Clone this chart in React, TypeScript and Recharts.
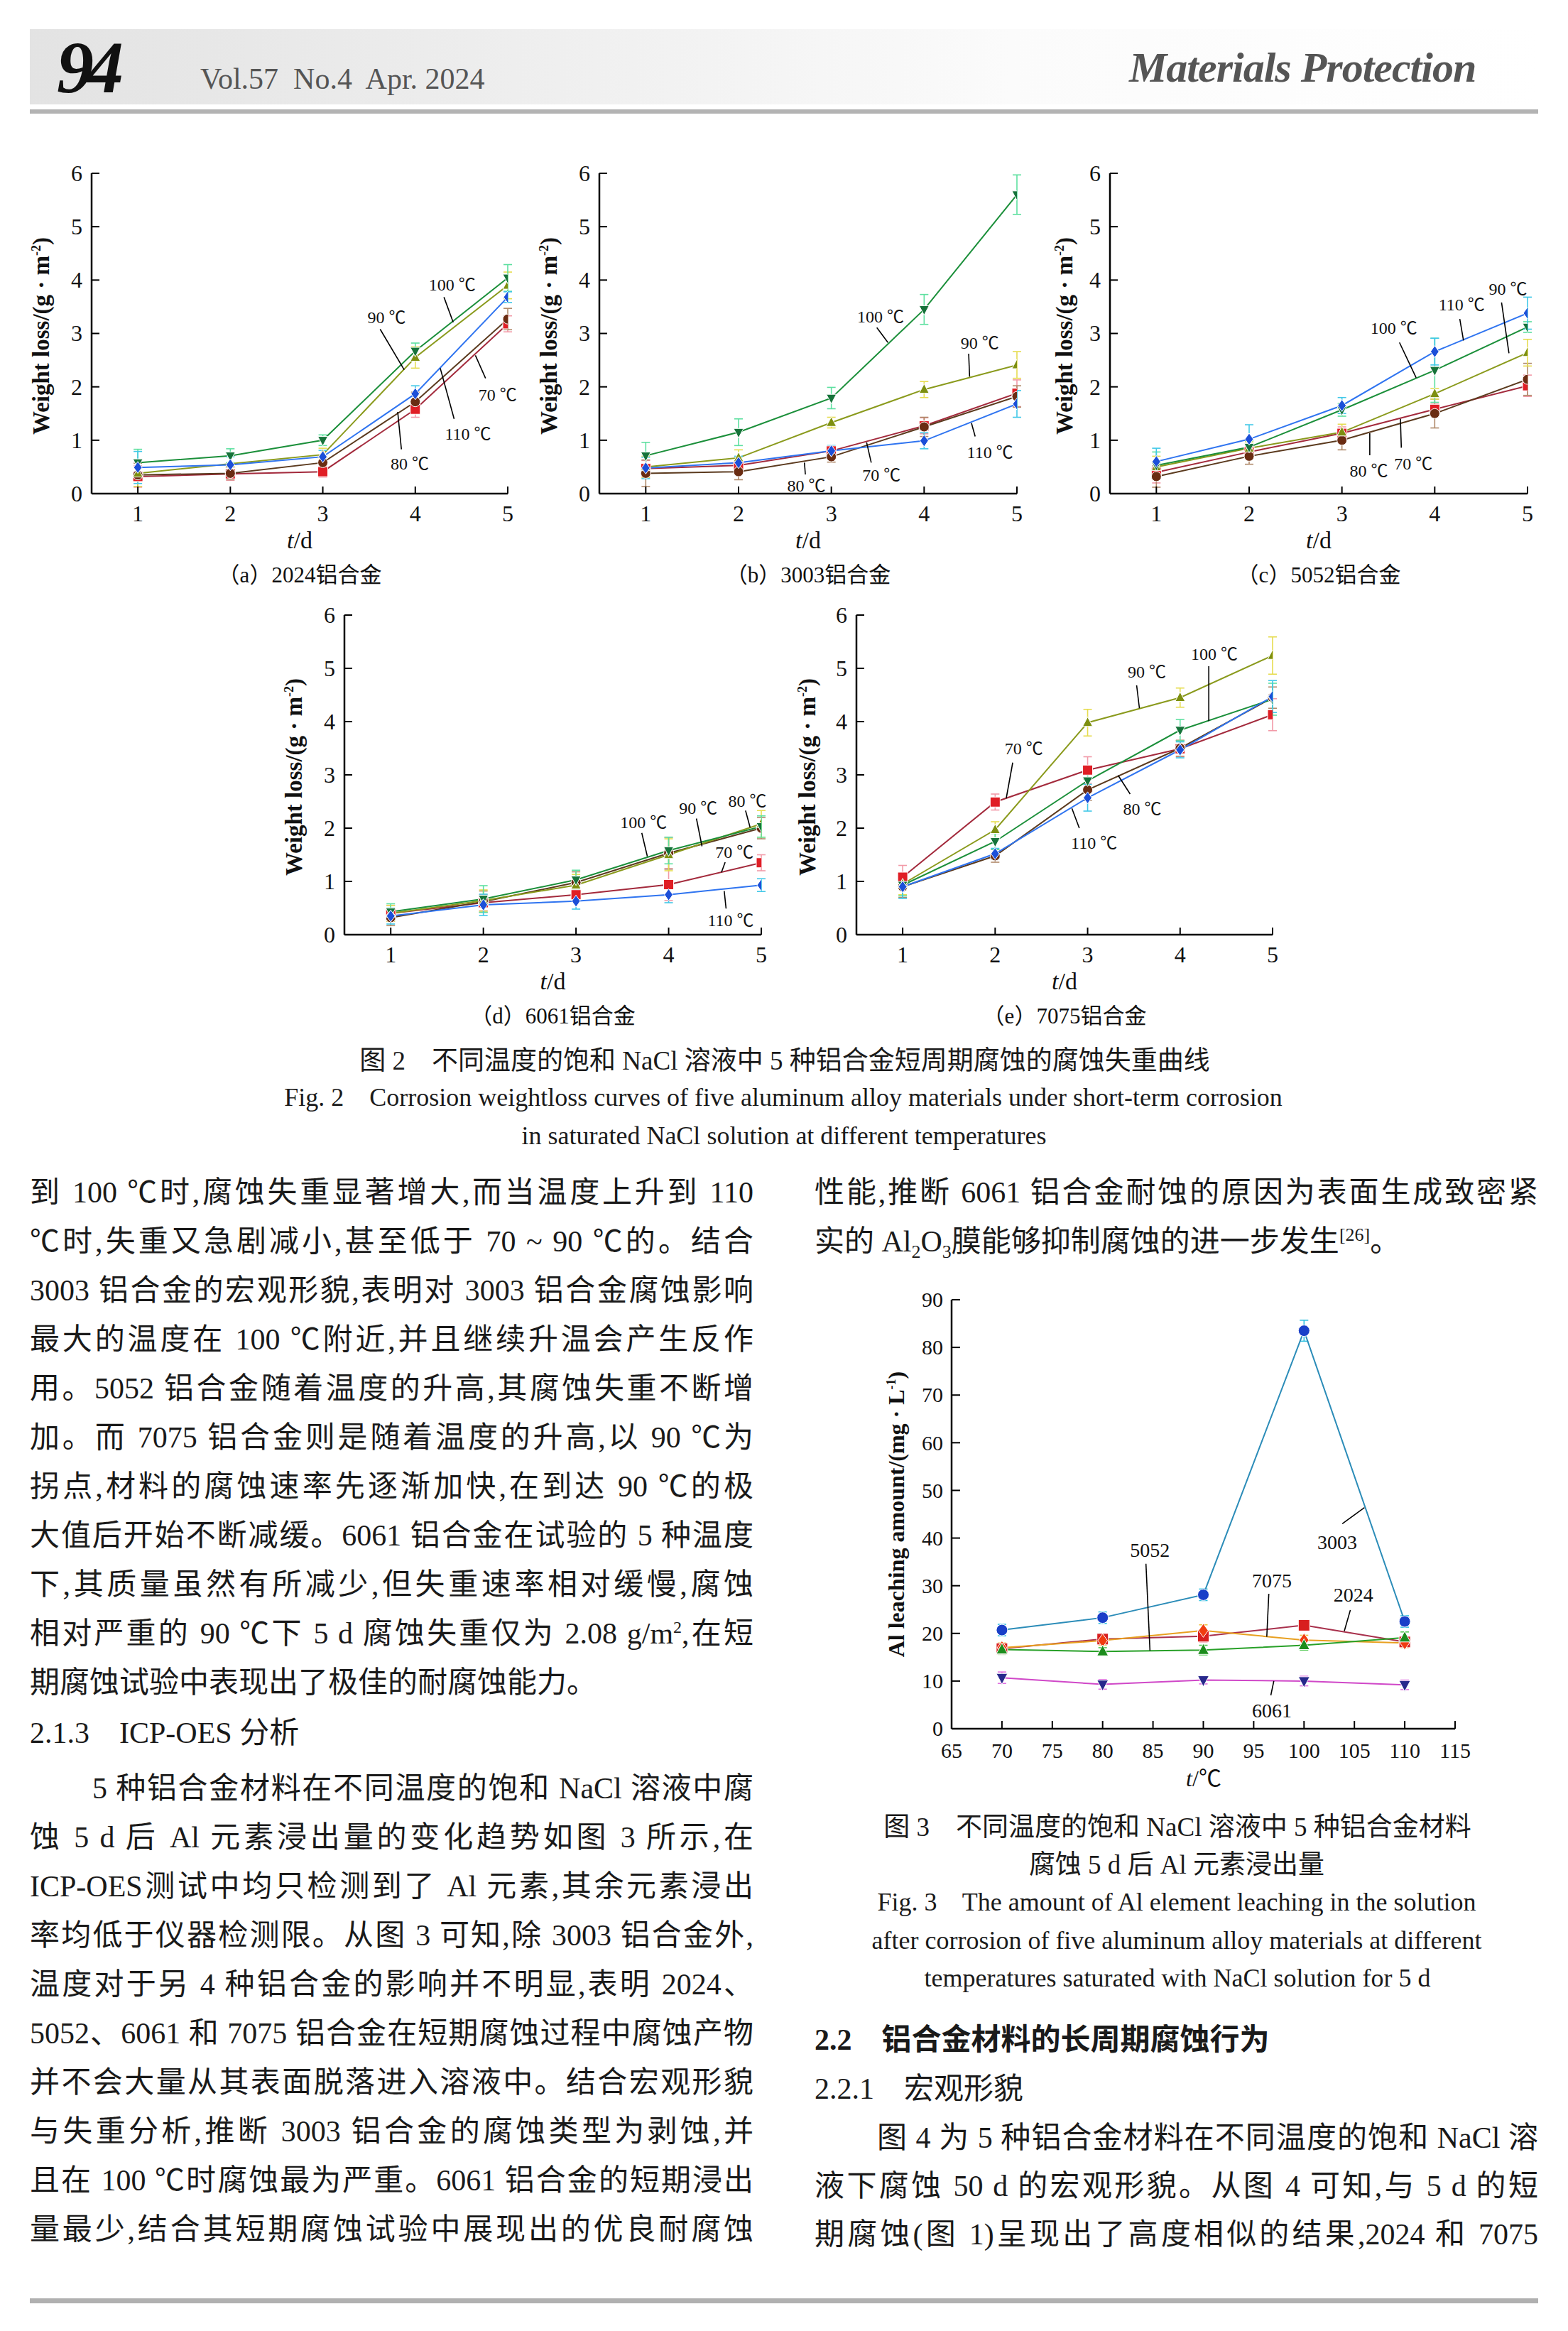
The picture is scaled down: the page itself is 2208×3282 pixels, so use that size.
import React from "react";
import { LineChart, Line, XAxis, YAxis, ErrorBar, ReferenceLine, ReferenceDot } from "recharts";

const SERIF = '"Liberation Serif", "Noto Sans CJK SC", serif';

// ---- Fig. 2 : weight loss (g/m2) vs. time (d) ----
const days = [1, 2, 3, 4, 5];
const dayTicks = [1, 2, 3, 4, 5];
const lossTicks = [0, 1, 2, 3, 4, 5, 6];
// rows: 70, 80, 90, 100, 110 ℃ ; cols: day 1..5
const loss2024 = [
  [0.32, 0.37, 0.41, 1.58, 3.18],
  [0.35, 0.38, 0.58, 1.72, 3.27],
  [0.38, 0.56, 0.73, 2.55, 3.9],
  [0.58, 0.71, 1.0, 2.67, 4.04],
  [0.49, 0.54, 0.69, 1.87, 3.68],
];
const err2024 = [
  [0.2, 0.12, 0.1, 0.15, 0.15],
  [0.22, 0.12, 0.12, 0.18, 0.2],
  [0.25, 0.15, 0.12, 0.2, 0.25],
  [0.25, 0.13, 0.1, 0.15, 0.25],
  [0.3, 0.15, 0.12, 0.15, 0.1],
];
const loss3003 = [
  [0.47, 0.53, 0.8, 1.27, 1.88],
  [0.38, 0.41, 0.69, 1.25, 1.82],
  [0.5, 0.67, 1.33, 1.95, 2.41],
  [0.71, 1.15, 1.79, 3.45, 5.6],
  [0.48, 0.58, 0.8, 0.99, 1.68],
];
const err3003 = [
  [0.15, 0.1, 0.08, 0.15, 0.25],
  [0.25, 0.15, 0.1, 0.18, 0.2],
  [0.2, 0.15, 0.1, 0.15, 0.25],
  [0.25, 0.25, 0.2, 0.28, 0.37],
  [0.2, 0.12, 0.1, 0.15, 0.25],
];
const loss5052 = [
  [0.4, 0.78, 1.13, 1.58, 2.02],
  [0.32, 0.7, 1.0, 1.5, 2.14],
  [0.5, 0.85, 1.15, 1.87, 2.64],
  [0.53, 0.87, 1.57, 2.31, 3.12],
  [0.6, 1.02, 1.65, 2.66, 3.38],
];
const err5052 = [
  [0.2, 0.1, 0.12, 0.1, 0.2],
  [0.2, 0.15, 0.18, 0.27, 0.3],
  [0.2, 0.12, 0.15, 0.1, 0.25],
  [0.25, 0.12, 0.12, 0.6, 0.1],
  [0.25, 0.27, 0.15, 0.25, 0.3],
];
const loss6061 = [
  [0.4, 0.6, 0.75, 0.94, 1.35],
  [0.32, 0.62, 0.98, 1.53, 2.0],
  [0.4, 0.64, 0.93, 1.5, 2.08],
  [0.43, 0.67, 1.03, 1.58, 2.03],
  [0.35, 0.56, 0.63, 0.75, 0.93],
];
const err6061 = [
  [0.15, 0.15, 0.12, 0.3, 0.15],
  [0.15, 0.2, 0.2, 0.3, 0.2],
  [0.15, 0.2, 0.2, 0.3, 0.25],
  [0.15, 0.25, 0.18, 0.25, 0.2],
  [0.15, 0.2, 0.15, 0.15, 0.12],
];
const loss7075 = [
  [1.08, 2.49, 3.09, 3.49, 4.13],
  [0.9, 1.48, 2.72, 3.5, 4.45],
  [0.95, 1.97, 3.98, 4.45, 5.24],
  [0.93, 1.75, 2.89, 3.84, 4.42],
  [0.9, 1.52, 2.57, 3.47, 4.47],
];
const err7075 = [
  [0.22, 0.15, 0.25, 0.15, 0.3],
  [0.2, 0.12, 0.2, 0.15, 0.2],
  [0.2, 0.15, 0.25, 0.18, 0.35],
  [0.2, 0.15, 0.2, 0.2, 0.3],
  [0.22, 0.1, 0.25, 0.15, 0.3],
];

// callouts: [label, textX, textY, leaderX1, leaderY1, leaderX2, leaderY2] in data units
type Note = [string, number, number, number, number, number, number];
const notes2024: Note[] = [
  ["100 ℃", 4.4, 3.92, 4.31, 3.68, 4.41, 3.21],
  ["90 ℃", 3.69, 3.31, 3.62, 3.08, 3.88, 2.32],
  ["70 ℃", 4.89, 1.86, 4.76, 2.16, 4.65, 2.59],
  ["110 ℃", 4.57, 1.12, 4.42, 1.4, 4.27, 2.35],
  ["80 ℃", 3.94, 0.56, 3.85, 0.83, 3.81, 1.53],
];
const notes3003: Note[] = [
  ["100 ℃", 3.53, 3.32, 3.49, 3.11, 3.61, 2.83],
  ["90 ℃", 4.6, 2.83, 4.48, 2.62, 4.49, 2.19],
  ["110 ℃", 4.71, 0.78, 4.55, 1.07, 4.51, 1.32],
  ["70 ℃", 3.54, 0.35, 3.43, 0.58, 3.38, 0.96],
  ["80 ℃", 2.73, 0.15, 2.72, 0.36, 2.71, 0.58],
];
const notes5052: Note[] = [
  ["90 ℃", 4.79, 3.84, 4.72, 3.58, 4.8, 2.63],
  ["110 ℃", 4.29, 3.54, 4.27, 3.27, 4.31, 2.87],
  ["100 ℃", 3.56, 3.11, 3.62, 2.83, 3.8, 2.17],
  ["80 ℃", 3.29, 0.43, 3.3, 0.72, 3.3, 1.13],
  ["70 ℃", 3.77, 0.56, 3.64, 0.86, 3.63, 1.4],
];
const notes6061: Note[] = [
  ["100 ℃", 3.73, 2.12, 3.71, 1.91, 3.77, 1.47],
  ["90 ℃", 4.32, 2.38, 4.3, 2.18, 4.36, 1.66],
  ["80 ℃", 4.85, 2.52, 4.83, 2.33, 4.88, 2.01],
  ["70 ℃", 4.71, 1.55, 4.61, 1.36, 4.57, 1.17],
  ["110 ℃", 4.67, 0.27, 4.62, 0.49, 4.6, 0.82],
];
const notes7075: Note[] = [
  ["100 ℃", 4.37, 5.27, 4.31, 5.04, 4.31, 4.01],
  ["90 ℃", 3.64, 4.94, 3.53, 4.68, 3.56, 4.25],
  ["70 ℃", 2.31, 3.5, 2.19, 3.23, 2.12, 2.56],
  ["80 ℃", 3.59, 2.37, 3.46, 2.64, 3.33, 2.99],
  ["110 ℃", 3.07, 1.73, 2.91, 2.0, 2.83, 2.37],
];

const tempStyles = [
  { line: "#a32a3c", mark: "#e01e25", err: "#f29aa8", shape: "square" },
  { line: "#5b3a1e", mark: "#6a2c12", err: "#b08a6a", shape: "circle" },
  { line: "#8a9a1c", mark: "#7d8f10", err: "#e6dc50", shape: "up" },
  { line: "#1b8f3a", mark: "#16733a", err: "#5ee0a0", shape: "down" },
  { line: "#2f74f0", mark: "#1c4fd8", err: "#40c8e8", shape: "diamond" },
];

// ---- Fig. 3 : Al leaching (mg/L) vs. temperature ----
const temps = [70, 80, 90, 100, 110];
const tempTicks = [65, 70, 75, 80, 85, 90, 95, 100, 105, 110, 115];
const leachTicks = [0, 10, 20, 30, 40, 50, 60, 70, 80, 90];
const alloyNames = ["3003", "2024", "7075", "5052", "6061"];
const leach = [
  [20.7, 23.3, 28.1, 83.5, 22.5],
  [16.8, 18.8, 19.4, 21.7, 18.2],
  [17.0, 18.5, 20.6, 18.6, 18.0],
  [16.6, 16.2, 16.5, 17.5, 19.1],
  [10.7, 9.3, 10.2, 10.0, 9.2],
];
const leachErr = [
  [1.2, 1.2, 1.2, 2.2, 1.2],
  [1.0, 1.0, 1.2, 0.8, 1.0],
  [1.0, 1.0, 1.2, 1.0, 1.0],
  [1.0, 0.8, 1.0, 1.0, 1.2],
  [1.2, 1.0, 0.8, 1.0, 1.0],
];
const leachNotes: Note[] = [
  ["3003", 103.3, 39.2, 103.8, 43.0, 106.0, 46.4],
  ["5052", 84.7, 37.6, 84.3, 34.6, 84.7, 16.4],
  ["7075", 96.8, 31.2, 96.5, 28.3, 96.3, 19.3],
  ["2024", 104.9, 28.1, 104.6, 24.9, 104.0, 20.5],
  ["6061", 96.8, 3.9, 96.7, 7.0, 97.0, 10.0],
];
const alloyStyles = [
  { line: "#2b8cb8", mark: "#1a3fc8", err: "#30c0e0", shape: "circle" },
  { line: "#a8304c", mark: "#d81e1e", err: "#f07890", shape: "square" },
  { line: "#e8a020", mark: "#f03c10", err: "#f0c040", shape: "diamond" },
  { line: "#28a028", mark: "#1c8c1c", err: "#50c850", shape: "up" },
  { line: "#d048c8", mark: "#28288c", err: "#e070e0", shape: "down" },
];

function marker(shape: string, fill: string, s: number) {
  return (p: any) => {
    const { cx, cy, index } = p;
    const k = `m${index}`;
    if (cx == null || cy == null) return <g key={k} />;
    const st = { fill, stroke: "#ffffff", strokeWidth: 1 };
    if (shape === "square") return <rect key={k} x={cx - s} y={cy - s} width={2 * s} height={2 * s} {...st} />;
    if (shape === "circle") return <circle key={k} cx={cx} cy={cy} r={s} {...st} />;
    if (shape === "up")
      return <polygon key={k} points={`${cx},${cy - s * 1.15} ${cx - s},${cy + s * 0.75} ${cx + s},${cy + s * 0.75}`} {...st} />;
    if (shape === "down")
      return <polygon key={k} points={`${cx},${cy + s * 1.15} ${cx - s},${cy - s * 0.75} ${cx + s},${cy - s * 0.75}`} {...st} />;
    return <polygon key={k} points={`${cx},${cy - s * 1.2} ${cx + s * 0.85},${cy} ${cx},${cy + s * 1.2} ${cx - s * 0.85},${cy}`} {...st} />;
  };
}

const xTick = (len: number, dy: number, fs: number) => (p: any) => (
  <g>
    <line x1={p.x} y1={p.y} x2={p.x} y2={p.y - len} stroke="#000" strokeWidth={2} />
    <text x={p.x} y={p.y + dy} textAnchor="middle" fontSize={fs} fontFamily={SERIF} fill="#111">
      {p.payload.value}
    </text>
  </g>
);
const yTick = (len: number, gap: number, fs: number) => (p: any) => (
  <g>
    <line x1={p.x} y1={p.y} x2={p.x + len} y2={p.y} stroke="#000" strokeWidth={2} />
    <text x={p.x - gap} y={p.y} dy="0.34em" textAnchor="end" fontSize={fs} fontFamily={SERIF} fill="#111">
      {p.payload.value}
    </text>
  </g>
);

function callouts(notes: Note[], fs: number) {
  const out: any[] = [];
  notes.forEach((n, i) => {
    out.push(
      <ReferenceLine
        key={`l${i}`}
        segment={[{ x: n[3], y: n[4] }, { x: n[5], y: n[6] }]}
        stroke="#000"
        strokeWidth={1.6}
        ifOverflow="visible"
      />
    );
    out.push(
      <ReferenceDot
        key={`t${i}`}
        x={n[1]}
        y={n[2]}
        r={0}
        fill="none"
        stroke="none"
        ifOverflow="visible"
        label={{ value: n[0], position: "center", fontSize: fs, fontFamily: SERIF, fill: "#111" }}
      />
    );
  });
  return out;
}

const abs = (x: number, y: number, extra: any = {}) => ({ position: "absolute" as const, left: x, top: y, ...extra });

const axisStyle = { stroke: "#000", strokeWidth: 2.5 };

function WeightPanel(props: {
  box: number[];
  loss: number[][];
  err: number[][];
  notes: Note[];
  labelX: number;
  tag: string;
  alloy: string;
}) {
  const [x0, y0, x1, y1] = props.box;
  const pad = 70;
  const rows = days.map((d, i) => {
    const r: any = { day: d };
    props.loss.forEach((s, j) => {
      r["s" + j] = s[i];
      r["e" + j] = props.err[j][i];
    });
    return r;
  });
  const cx = (x0 + x1) / 2;
  return (
    <>
      <div style={abs(x0 - pad, y0 - pad)}>
        <LineChart
          width={x1 - x0 + 2 * pad}
          height={y1 - y0 + 2 * pad}
          data={rows}
          margin={{ top: pad, right: pad, bottom: pad - 1, left: pad - 1 }}
          style={{ overflow: "visible" }}
        >
          <XAxis
            dataKey="day"
            type="number"
            domain={[0.5, 5]}
            ticks={dayTicks}
            allowDataOverflow
            height={1}
            tickSize={0}
            tickMargin={0}
            tickLine={false}
            interval={0}
            axisLine={axisStyle}
            tick={xTick(10, 39, 32)}
          />
          <YAxis
            type="number"
            domain={[0, 6]}
            ticks={lossTicks}
            allowDataOverflow
            width={1}
            tickSize={0}
            tickMargin={0}
            tickLine={false}
            interval={0}
            axisLine={axisStyle}
            tick={yTick(11, 13, 32)}
          />
          {props.loss.map((_, j) => (
            <Line
              key={j}
              type="linear"
              dataKey={"s" + j}
              stroke={tempStyles[j].line}
              strokeWidth={2}
              isAnimationActive={false}
              dot={marker(tempStyles[j].shape, tempStyles[j].mark, 7)}
            >
              <ErrorBar
                dataKey={"e" + j}
                direction="y"
                width={6}
                stroke={tempStyles[j].err}
                strokeWidth={1.6}
                isAnimationActive={false}
              />
            </Line>
          ))}
          {callouts(props.notes, 24)}
        </LineChart>
      </div>
      <div
        style={abs(props.labelX, (y0 + y1) / 2 + 3, {
          transform: "translate(-50%, -50%) rotate(-90deg)",
          whiteSpace: "nowrap",
          fontFamily: SERIF,
          fontWeight: 700,
          fontSize: 33,
          color: "#111",
        })}
      >
        Weight loss/(g · m<sup style={{ fontSize: 18 }}>-2</sup>)
      </div>
      <div
        style={abs(cx, y1 + 66, {
          transform: "translate(-50%, -50%)",
          whiteSpace: "nowrap",
          fontFamily: SERIF,
          fontSize: 34,
          color: "#111",
        })}
      >
        <i>t</i>/d
      </div>
      <div
        style={abs(cx, y1 + 111, {
          transform: "translate(-50%, -50%)",
          whiteSpace: "nowrap",
          fontFamily: SERIF,
          fontSize: 31,
          color: "#111",
        })}
      >
        （{props.tag}）{props.alloy}铝合金
      </div>
    </>
  );
}

function LeachChart() {
  const [x0, y0, x1, y1] = [1340, 1830, 2049, 2434];
  const pad = 70;
  const rows = temps.map((t, i) => {
    const r: any = { t };
    leach.forEach((s, j) => {
      r["s" + j] = s[i];
      r["e" + j] = leachErr[j][i];
    });
    return r;
  });
  return (
    <>
      <div style={abs(x0 - pad, y0 - pad)}>
        <LineChart
          width={x1 - x0 + 2 * pad}
          height={y1 - y0 + 2 * pad}
          data={rows}
          margin={{ top: pad, right: pad, bottom: pad - 1, left: pad - 1 }}
          style={{ overflow: "visible" }}
        >
          <XAxis
            dataKey="t"
            type="number"
            domain={[65, 115]}
            ticks={tempTicks}
            allowDataOverflow
            height={1}
            tickSize={0}
            tickMargin={0}
            tickLine={false}
            interval={0}
            axisLine={axisStyle}
            tick={xTick(11, 41, 30)}
          />
          <YAxis
            type="number"
            domain={[0, 90]}
            ticks={leachTicks}
            allowDataOverflow
            width={1}
            tickSize={0}
            tickMargin={0}
            tickLine={false}
            interval={0}
            axisLine={axisStyle}
            tick={yTick(12, 12, 30)}
          />
          {leach.map((_, j) => (
            <Line
              key={alloyNames[j]}
              type="linear"
              dataKey={"s" + j}
              stroke={alloyStyles[j].line}
              strokeWidth={2}
              isAnimationActive={false}
              dot={marker(alloyStyles[j].shape, alloyStyles[j].mark, 8)}
            >
              <ErrorBar
                dataKey={"e" + j}
                direction="y"
                width={6}
                stroke={alloyStyles[j].err}
                strokeWidth={1.6}
                isAnimationActive={false}
              />
            </Line>
          ))}
          {callouts(leachNotes, 28)}
        </LineChart>
      </div>
      <div
        style={abs(1262, (y0 + y1) / 2, {
          transform: "translate(-50%, -50%) rotate(-90deg)",
          whiteSpace: "nowrap",
          fontFamily: SERIF,
          fontWeight: 700,
          fontSize: 32,
          color: "#111",
        })}
      >
        Al leaching amount/(mg · L<sup style={{ fontSize: 18 }}>-1</sup>)
      </div>
      <div
        style={abs(1695, 2501, {
          transform: "translate(-50%, -50%)",
          whiteSpace: "nowrap",
          fontFamily: SERIF,
          fontSize: 32,
          color: "#111",
        })}
      >
        <i>t</i>/℃
      </div>
    </>
  );
}

const leftBlock1 = [
  "到 100 ℃时,腐蚀失重显著增大,而当温度上升到 110",
  "℃时,失重又急剧减小,甚至低于 70 ~ 90 ℃的。结合",
  "3003 铝合金的宏观形貌,表明对 3003 铝合金腐蚀影响",
  "最大的温度在 100 ℃附近,并且继续升温会产生反作",
  "用。5052 铝合金随着温度的升高,其腐蚀失重不断增",
  "加。而 7075 铝合金则是随着温度的升高,以 90 ℃为",
  "拐点,材料的腐蚀速率先逐渐加快,在到达 90 ℃的极",
  "大值后开始不断减缓。6061 铝合金在试验的 5 种温度",
  "下,其质量虽然有所减少,但失重速率相对缓慢,腐蚀",
];
const leftBlock2 = [
  "5 种铝合金材料在不同温度的饱和 NaCl 溶液中腐",
  "蚀 5 d 后 Al 元素浸出量的变化趋势如图 3 所示,在",
  "ICP-OES测试中均只检测到了 Al 元素,其余元素浸出",
  "率均低于仪器检测限。从图 3 可知,除 3003 铝合金外,",
  "温度对于另 4 种铝合金的影响并不明显,表明 2024、",
  "5052、6061 和 7075 铝合金在短期腐蚀过程中腐蚀产物",
  "并不会大量从其表面脱落进入溶液中。结合宏观形貌",
  "与失重分析,推断 3003 铝合金的腐蚀类型为剥蚀,并",
  "且在 100 ℃时腐蚀最为严重。6061 铝合金的短期浸出",
  "量最少,结合其短期腐蚀试验中展现出的优良耐腐蚀",
];
const rightBlock2 = [
  "图 4 为 5 种铝合金材料在不同温度的饱和 NaCl 溶",
  "液下腐蚀 50 d 的宏观形貌。从图 4 可知,与 5 d 的短",
  "期腐蚀(图 1)呈现出了高度相似的结果,2024 和 7075",
];

const BODY = 42;

function Line1(props: { x: number; y: number; w: number; children: any; indent?: number; last?: boolean; fs?: number; bold?: boolean }) {
  return (
    <div
      style={abs(props.x, props.y - 35, {
        width: props.w,
        height: 70,
        lineHeight: "70px",
        fontFamily: SERIF,
        fontSize: props.fs || BODY,
        fontWeight: props.bold ? 700 : 400,
        color: "#1a1a1a",
        textAlign: props.last ? "left" : "justify",
        textAlignLast: props.last ? "left" : "justify",
        textIndent: props.indent || 0,
        whiteSpace: "nowrap",
      })}
    >
      {props.children}
    </div>
  );
}

function Centered(props: { x: number; y: number; children: any; fs: number }) {
  return (
    <div
      style={abs(props.x, props.y, {
        transform: "translate(-50%, -50%)",
        whiteSpace: "nowrap",
        fontFamily: SERIF,
        fontSize: props.fs,
        color: "#1a1a1a",
      })}
    >
      {props.children}
    </div>
  );
}

export default function App() {
  const LX = 42;
  const RX = 1147;
  const CW = 1019;
  return (
    <div style={{ position: "absolute", left: 0, top: 0, width: 2208, height: 3282, background: "#fff", overflow: "hidden" }}>
      {/* running head */}
      <div
        style={abs(42, 41, {
          width: 2124,
          height: 106,
          background: "linear-gradient(to right, #e3e3e3 0%, #efefef 35%, #fbfbfb 65%, #ffffff 100%)",
        })}
      />
      <div style={abs(42, 154, { width: 2124, height: 6, background: "#b3b3b3" })} />
      <div
        style={abs(80, 40, {
          fontFamily: SERIF,
          fontSize: 104,
          fontWeight: 900,
          fontStyle: "italic",
          letterSpacing: -10,
          lineHeight: "110px",
          color: "#111",
        })}
      >
        94
      </div>
      <div style={abs(282, 86, { fontFamily: SERIF, fontSize: 42, color: "#555", lineHeight: "50px", whiteSpace: "nowrap" })}>
        Vol.57&nbsp; No.4&nbsp; Apr. 2024
      </div>
      <div
        style={abs(1590, 60, {
          fontFamily: SERIF,
          fontSize: 60,
          fontStyle: "italic",
          fontWeight: 700,
          color: "#555",
          lineHeight: "70px",
          whiteSpace: "nowrap",
          letterSpacing: -1,
        })}
      >
        Materials Protection
      </div>

      {/* Fig. 2 panels */}
      <WeightPanel box={[129, 244, 715, 695]} loss={loss2024} err={err2024} notes={notes2024} labelX={58} tag="a" alloy="2024" />
      <WeightPanel box={[844, 244, 1432, 695]} loss={loss3003} err={err3003} notes={notes3003} labelX={773} tag="b" alloy="3003" />
      <WeightPanel box={[1563, 244, 2151, 695]} loss={loss5052} err={err5052} notes={notes5052} labelX={1499} tag="c" alloy="5052" />
      <WeightPanel box={[485, 866, 1072, 1316]} loss={loss6061} err={err6061} notes={notes6061} labelX={414} tag="d" alloy="6061" />
      <WeightPanel box={[1206, 866, 1792, 1316]} loss={loss7075} err={err7075} notes={notes7075} labelX={1137} tag="e" alloy="7075" />

      <Centered x={1105} y={1490} fs={37}>
        图 2&nbsp;&nbsp;&nbsp; 不同温度的饱和 NaCl 溶液中 5 种铝合金短周期腐蚀的腐蚀失重曲线
      </Centered>
      <Centered x={1103} y={1545} fs={36}>
        Fig. 2&nbsp;&nbsp;&nbsp; Corrosion weightloss curves of five aluminum alloy materials under short-term corrosion
      </Centered>
      <Centered x={1104} y={1599} fs={36}>
        in saturated NaCl solution at different temperatures
      </Centered>

      {/* left column */}
      {leftBlock1.map((t, i) => (
        <Line1 key={"a" + i} x={LX} y={1679 + i * 69} w={CW}>
          {t}
        </Line1>
      ))}
      <Line1 x={LX} y={1679 + 9 * 69} w={CW}>
        相对严重的 90 ℃下 5 d 腐蚀失重仅为 2.08 g/m<sup style={{ fontSize: 24, lineHeight: 0 }}>2</sup>,在短
      </Line1>
      <Line1 x={LX} y={1679 + 10 * 69} w={CW} last>
        期腐蚀试验中表现出了极佳的耐腐蚀能力。
      </Line1>
      <Line1 x={LX} y={2440} w={CW} last>
        2.1.3&nbsp;&nbsp;&nbsp; ICP-OES 分析
      </Line1>
      {leftBlock2.map((t, i) => (
        <Line1 key={"b" + i} x={LX} y={2518 + i * 69} w={CW} indent={i === 0 ? 88 : 0}>
          {t}
        </Line1>
      ))}

      {/* right column */}
      <Line1 x={RX} y={1679} w={CW}>
        性能,推断 6061 铝合金耐蚀的原因为表面生成致密紧
      </Line1>
      <Line1 x={RX} y={1748} w={CW} last>
        实的 Al<sub style={{ fontSize: 26, lineHeight: 0 }}>2</sub>O<sub style={{ fontSize: 26, lineHeight: 0 }}>3</sub>膜能够抑制腐蚀的进一步发生
        <sup style={{ fontSize: 26, lineHeight: 0 }}>[26]</sup>。
      </Line1>

      <LeachChart />

      <Centered x={1658} y={2569} fs={37}>
        图 3&nbsp;&nbsp;&nbsp; 不同温度的饱和 NaCl 溶液中 5 种铝合金材料
      </Centered>
      <Centered x={1657} y={2622} fs={37}>
        腐蚀 5 d 后 Al 元素浸出量
      </Centered>
      <Centered x={1657} y={2678} fs={36}>
        Fig. 3&nbsp;&nbsp;&nbsp; The amount of Al element leaching in the solution
      </Centered>
      <Centered x={1657} y={2732} fs={36}>
        after corrosion of five aluminum alloy materials at different
      </Centered>
      <Centered x={1658} y={2785} fs={36}>
        temperatures saturated with NaCl solution for 5 d
      </Centered>

      <Line1 x={RX} y={2872} w={CW} last bold fs={42}>
        2.2&nbsp;&nbsp;&nbsp; 铝合金材料的长周期腐蚀行为
      </Line1>
      <Line1 x={RX} y={2941} w={CW} last>
        2.2.1&nbsp;&nbsp;&nbsp; 宏观形貌
      </Line1>
      {rightBlock2.map((t, i) => (
        <Line1 key={"c" + i} x={RX} y={3010 + i * 68} w={CW} indent={i === 0 ? 88 : 0}>
          {t}
        </Line1>
      ))}

      <div style={abs(42, 3236, { width: 2124, height: 7, background: "#b0b0b0" })} />
    </div>
  );
}
